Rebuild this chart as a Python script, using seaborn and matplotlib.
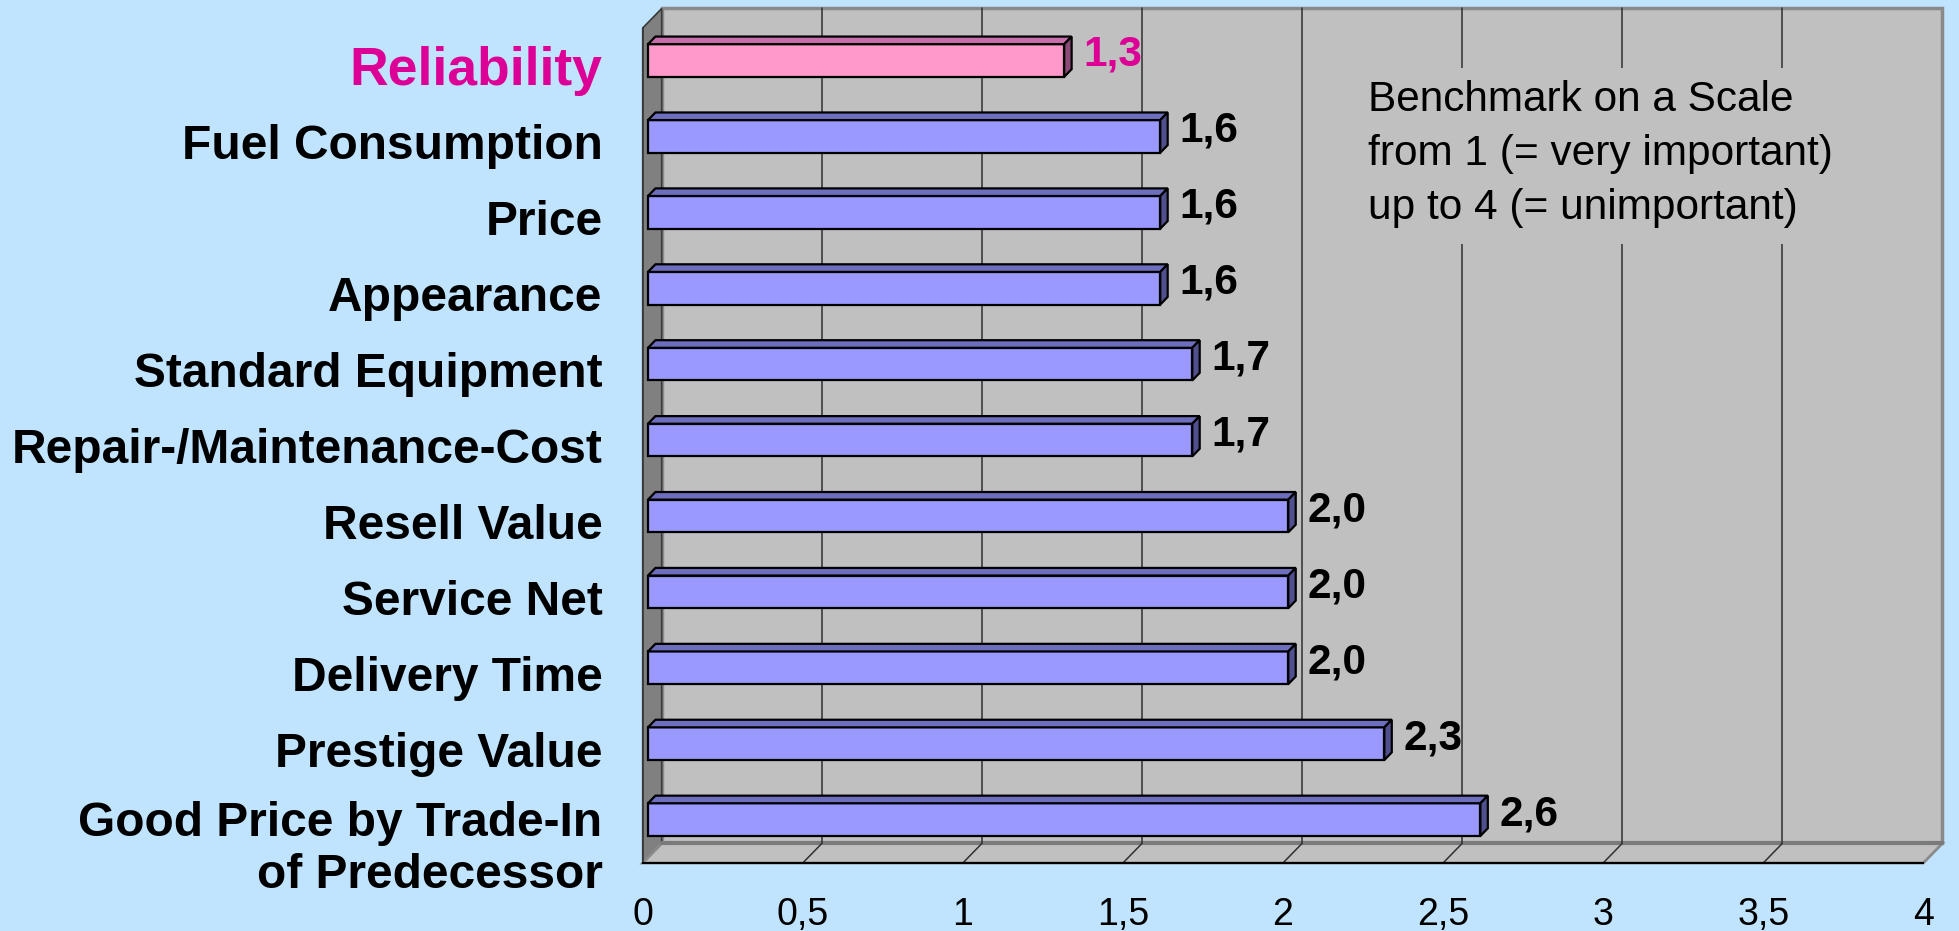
import numpy as np
import pandas as pd
import seaborn as sns
import matplotlib
matplotlib.use("Agg")
import matplotlib.pyplot as plt
import matplotlib.ticker as mticker
from matplotlib import font_manager as fm
from matplotlib.patches import Polygon, Rectangle
from matplotlib.transforms import ScaledTranslation

# data
categories = ["Reliability", "Fuel Consumption", "Price", "Appearance",
              "Standard Equipment", "Repair-/Maintenance-Cost", "Resell Value",
              "Service Net", "Delivery Time", "Prestige Value",
              "Good Price by Trade-In\nof Predecessor"]
values = [1.3, 1.6, 1.6, 1.6, 1.7, 1.7, 2.0, 2.0, 2.0, 2.3, 2.6]
x_ticks = [0, 0.5, 1, 1.5, 2, 2.5, 3, 3.5, 4]
note = "Benchmark on a Scale\nfrom 1 (= very important)\nup to 4 (= unimportant)"

BG = "#C0E4FE"
WALL = "#C0C0C0"
SIDE = "#808080"
MAGENTA = "#DC0096"
front = {"pink": "#FF99CC", "blue": "#9999FF"}
top_c = {"pink": "#C86EAA", "blue": "#6E6EBE"}
side_c = {"pink": "#8C4B78", "blue": "#50508F"}
kinds = ["pink"] + ["blue"] * (len(categories) - 1)

sns.set_style("white")
names = {f.name for f in fm.fontManager.ttflist}
plt.rcParams["font.family"] = ["Liberation Sans", "DejaVu Sans"]
plt.rcParams["text.color"] = "black"
plt.rcParams["xtick.color"] = "black"
plt.rcParams["ytick.color"] = "black"
plt.rcParams["xtick.labelcolor"] = "black"
plt.rcParams["ytick.labelcolor"] = "black"
narrow = "Liberation Sans Narrow" if "Liberation Sans Narrow" in names else "Liberation Sans"

W, H = 1959, 931
fig = plt.figure(figsize=(W / 100, H / 100), dpi=100, facecolor=BG)
ax = fig.add_axes([642.7 / W, (H - 863) / H, (1923.3 - 642.7) / W, (863 - 28) / H])
ax.patch.set_visible(False)

df = pd.DataFrame({"cat": categories, "val": values, "kind": kinds})
sns.barplot(data=df, x="val", y="cat", hue="cat", orient="h", width=0.43,
            palette=[front[k] for k in kinds], saturation=1, edgecolor="black",
            linewidth=1.6, legend=False, ax=ax, zorder=3)
bars = list(ax.patches)

ax.set_xlim(0, 4)
ax.set_ylim(len(categories) - 0.5, -0.5)
n = len(categories)

# 3d offsets in data units
px_x = ax.get_window_extent().width / 4
px_y = ax.get_window_extent().height / n
dx, dy = 19 / px_x, 19.5 / px_y
ymin, ymax = -0.5, n - 0.5

# back wall
ax.add_patch(Rectangle((dx, ymin - dy), 4, n, facecolor=WALL, edgecolor="#8A8A8A",
                       lw=2.5, zorder=0.2, clip_on=False))
# side wall
ax.add_patch(Polygon([(0, ymin), (dx, ymin - dy), (dx, ymax - dy), (0, ymax)],
                     closed=True, facecolor=SIDE, edgecolor="#3A3A3A", lw=1.2,
                     zorder=0.3, clip_on=False))
# floor
ax.add_patch(Polygon([(0, ymax), (4, ymax), (4 + dx, ymax - dy), (dx, ymax - dy)],
                     closed=True, facecolor=WALL, edgecolor="#8A8A8A", lw=2,
                     zorder=0.3, clip_on=False))
ax.plot([dx, 4 + dx], [ymax - dy, ymax - dy], color="#7A7A7A", lw=3, zorder=0.35,
        clip_on=False)
for v in x_ticks[1:-1]:
    ax.plot([v + dx, v + dx], [ymax - dy, ymin - dy], color="#303030", lw=1.1,
            zorder=0.5, clip_on=False)
    ax.plot([v, v + dx], [ymax, ymax - dy], color="#303030", lw=1.1, zorder=0.5,
            clip_on=False)

# note box
ax.add_patch(Rectangle((1335 / W, 1 - 244 / H), (1932 - 1335) / W, (244 - 68) / H,
                       transform=fig.transFigure, facecolor=WALL, edgecolor="none",
                       zorder=0.6, clip_on=False))
fig.text(1368 / W, 1 - 154 / H, note, ha="left", va="center", fontsize=30.5,
         linespacing=1.45, color="black")

# bars with depth
f0, bd = 0.28, 0.39
for p, k, v in zip(bars, kinds, values):
    x0, y0, h = p.get_x(), p.get_y(), p.get_height()
    w = p.get_width()
    p.set_x(x0 + f0 * dx)
    p.set_y(y0 - f0 * dy)
    xa, xb = p.get_x(), p.get_x() + w
    yt, yb = p.get_y(), p.get_y() + h
    ax.add_patch(Polygon([(xa, yt), (xb, yt), (xb + bd * dx, yt - bd * dy),
                          (xa + bd * dx, yt - bd * dy)], closed=True,
                         facecolor=top_c[k], edgecolor="black", lw=1.6, zorder=3.1))
    ax.add_patch(Polygon([(xb, yt), (xb + bd * dx, yt - bd * dy),
                          (xb + bd * dx, yb - bd * dy), (xb, yb)], closed=True,
                         facecolor=side_c[k], edgecolor="black", lw=1.6, zorder=3.1))
    ax.annotate(f"{v:.1f}".replace(".", ","), xy=(xb, (yt + yb) / 2),
                xytext=(14, 4), textcoords="offset points", ha="left", va="center",
                fontsize=30.5, fontweight="bold",
                color=MAGENTA if k == "pink" else "black", zorder=4)

# axes styling
for s in ["top", "right"]:
    ax.spines[s].set_visible(False)
ax.spines["bottom"].set_color("black")
ax.spines["bottom"].set_linewidth(1.5)
ax.spines["left"].set_color("#3A3A3A")
ax.spines["left"].set_linewidth(1.2)
ax.spines["bottom"].set_zorder(0.7)
ax.spines["left"].set_zorder(0.7)

ax.set_xticks(x_ticks)
ax.xaxis.set_major_formatter(mticker.FuncFormatter(lambda v, _: f"{v:g}".replace(".", ",")))
ax.tick_params(axis="x", length=10.8, width=1.2, color="black", labelcolor="black",
               pad=14, labelsize=27, direction="out")
for lab in ax.get_xticklabels():
    lab.set_fontfamily([narrow, "DejaVu Sans"])

ax.set_yticks(range(n))
ax.set_yticklabels(categories)
ax.set_yticks(np.arange(-0.5, n, 1), minor=True)
ax.tick_params(axis="y", which="major", length=0, pad=29, labelsize=34.5,
               labelcolor="black")
ax.tick_params(axis="y", which="minor", length=8, width=1.2, color="#3A3A3A")
for i, lab in enumerate(ax.get_yticklabels()):
    lab.set_fontweight("bold")
    lab.set_multialignment("right")
    if kinds[i] == "pink":
        lab.set_color(MAGENTA)
        lab.set_fontsize(38.5)
    if "\n" in categories[i]:
        lab.set_transform(lab.get_transform() + ScaledTranslation(0, -0.16, fig.dpi_scale_trans))
ax.set_xlabel("")
ax.set_ylabel("")

fig.savefig("out.png", dpi=100, facecolor=BG)
